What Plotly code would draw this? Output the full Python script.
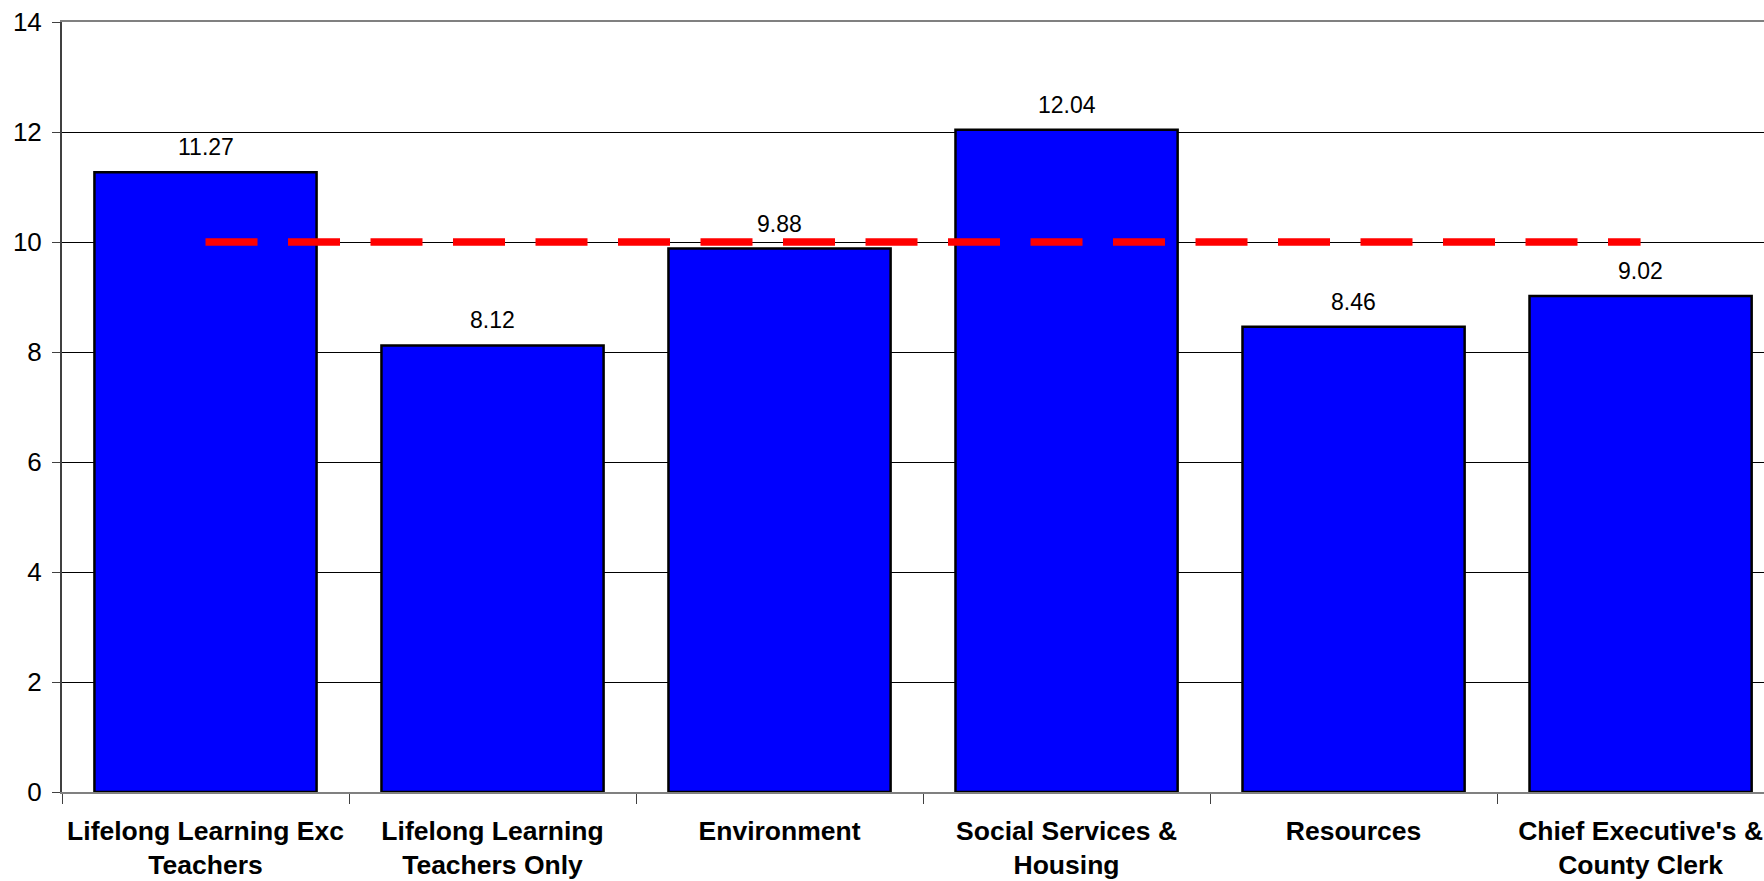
import plotly.graph_objects as go

categories = [
    "Lifelong Learning Exc<br>Teachers",
    "Lifelong Learning<br>Teachers Only",
    "Environment",
    "Social Services &<br>Housing",
    "Resources",
    "Chief Executive's &<br>County Clerk",
]
values = [11.27, 8.12, 9.88, 12.04, 8.46, 9.02]
target = [10, 10, 10, 10, 10, 10]
y_ticks = [0, 2, 4, 6, 8, 10, 12, 14]

FONT = "Liberation Sans, Arial, sans-serif"

fig = go.Figure()
fig.add_trace(go.Bar(
    x=categories, y=values,
    marker=dict(color="#0000FF", line=dict(color="black", width=2.5)),
    width=0.774,
    showlegend=False, hoverinfo="x+y",
))
fig.add_trace(go.Scatter(
    x=categories, y=target, mode="lines",
    line=dict(color="#FF0000", width=7.3, dash="52px,30.5px"),
    showlegend=False,
))

for c, v in zip(categories, values):
    fig.add_annotation(
        x=c, y=v, text=f"{v:.2f}", showarrow=False,
        yanchor="bottom", yshift=10,
        font=dict(family=FONT, size=23, color="black"),
    )

fig.update_layout(
    width=1764, height=881,
    margin=dict(l=62, r=0, t=22, b=89),
    paper_bgcolor="white", plot_bgcolor="white",
    bargap=0.226,
    font=dict(family=FONT, color="black"),
)
fig.update_xaxes(
    range=[-0.5, 5.43],
    showline=True, linecolor="#808080", linewidth=2, mirror=True,
    ticks="outside", tickson="boundaries", ticklen=10, tickcolor="#404040", tickwidth=1,
    tickfont=dict(family=FONT, size=26.5, color="black", weight="bold"),
    ticklabelstandoff=14,
    showgrid=False,
)
fig.update_yaxes(
    range=[0, 14], tickvals=y_ticks,
    showline=True, linecolor="#404040", linewidth=2,
    ticks="outside", ticklen=8, tickcolor="#404040", tickwidth=1,
    tickfont=dict(family=FONT, size=26, color="black"),
    showgrid=True, gridcolor="black", gridwidth=1,
    zeroline=False,
    ticklabelstandoff=5,
)

fig.write_html("out.html")
